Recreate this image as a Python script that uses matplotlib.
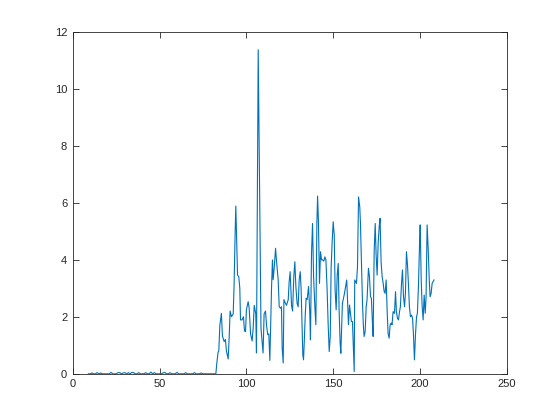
import matplotlib
matplotlib.use("Agg")
import matplotlib.pyplot as plt

# quiet stretch before the outbreak (x = 9 .. 81)
x_low = list(range(9, 82))
y_low = [0.0, 0.0, 0.03, 0.0, 0.0, 0.04, 0.0, 0.03, 0.0, 0.0,
         0.0, 0.0, 0.0, 0.05, 0.0, 0.0, 0.0, 0.04, 0.04, 0.0,
         0.03, 0.04, 0.0, 0.04, 0.0, 0.05, 0.04, 0.0, 0.0, 0.04,
         0.0, 0.0, 0.0, 0.04, 0.0, 0.0, 0.06, 0.0, 0.04, 0.0,
         0.0, 0.0, 0.0, 0.03, 0.05, 0.0, 0.0, 0.04, 0.0, 0.0,
         0.0, 0.05, 0.0, 0.0, 0.0, 0.0, 0.04, 0.0, 0.0, 0.0,
         0.0, 0.04, 0.0, 0.0, 0.0, 0.03, 0.0, 0.0, 0.0, 0.0,
         0.0, 0.0, 0.0]

# active stretch
x_high = [82.4, 83.0, 83.7, 84.1, 84.7, 85.6, 86.2, 87.2, 87.9, 88.5,
          89.5, 90.1, 90.6, 91.4, 92.4, 92.9, 93.5, 93.9, 94.9, 95.6,
          96.2, 96.6, 97.5, 98.3, 98.9, 99.5, 100.0, 101.0, 101.6, 102.4,
          103.3, 103.9, 104.5, 105.4, 105.8, 106.8, 108.4, 109.6, 110.2, 111.0,
          111.6, 112.3, 112.9, 113.5, 114.5, 115.0, 115.4, 116.0, 116.8, 117.3,
          118.3, 118.9, 119.6, 120.2, 120.6, 121.2, 121.6, 122.5, 123.1, 124.1,
          124.6, 125.2, 126.0, 126.6, 127.3, 127.9, 128.5, 129.2, 129.8, 130.4,
          131.0, 131.5, 132.1, 132.5, 132.9, 133.3, 133.9, 134.4, 135.0, 135.8,
          136.5, 136.9, 137.5, 138.1, 138.7, 139.4, 140.0, 140.6, 141.0, 141.5,
          142.1, 142.7, 143.3, 143.8, 144.6, 145.2, 145.8, 146.5, 147.1, 147.7,
          148.3, 148.8, 149.4, 150.0, 150.6, 151.1, 151.7, 152.3, 152.9, 153.4,
          154.0, 154.4, 155.3, 156.3, 157.8, 158.8, 159.4, 160.5, 161.1, 161.7,
          162.1, 162.4, 163.4, 164.0, 164.6, 165.3, 165.7, 166.3, 166.9, 167.4,
          167.8, 168.4, 169.0, 169.5, 170.3, 170.9, 171.5, 172.0, 172.6, 173.0,
          173.6, 174.2, 174.7, 175.3, 175.9, 176.5, 177.0, 177.6, 178.2, 178.8,
          179.3, 179.9, 180.5, 181.1, 181.6, 182.2, 182.8, 183.4, 183.9, 184.5,
          185.3, 185.9, 186.4, 187.0, 187.6, 188.2, 188.7, 189.3, 189.9, 190.5,
          191.1, 191.6, 192.2, 192.8, 193.4, 193.9, 194.5, 195.1, 195.7, 196.2,
          196.8, 197.4, 198.0, 198.5, 199.1, 199.7, 200.1, 200.7, 201.2, 201.8,
          202.4, 203.0, 203.5, 204.1, 204.7, 205.3, 205.8, 206.4, 207.0, 207.5,
          208.1]
y_high = [0.0, 0.4, 0.76, 0.8, 1.7, 2.12, 1.32, 1.13, 1.2, 0.8,
          0.52, 1.3, 2.2, 2.0, 2.1, 3.1, 4.9, 5.88, 3.46, 3.4,
          3.0, 1.89, 1.89, 2.0, 1.5, 1.48, 2.24, 2.53, 2.3, 1.4,
          1.15, 1.6, 2.4, 2.1, 0.73, 11.36, 1.6, 0.73, 2.1, 2.2,
          1.7, 1.37, 1.4, 0.47, 3.06, 3.99, 3.3, 3.7, 4.4, 3.99,
          3.3, 2.35, 2.3, 2.35, 0.9, 0.38, 2.6, 2.47, 2.4, 2.6,
          3.2, 3.58, 2.4, 2.2, 3.4, 3.93, 3.06, 2.47, 2.35, 3.29,
          3.58, 3.0, 1.54, 0.66, 0.49, 1.07, 2.06, 2.65, 2.6, 3.06,
          2.18, 1.19, 4.2, 5.27, 3.4, 2.4, 1.72, 5.27, 6.23, 5.33,
          3.17, 4.28, 3.99, 4.0, 3.95, 4.1, 4.0, 2.94, 1.72, 0.78,
          1.31, 3.7, 4.63, 5.33, 4.86, 2.94, 2.24, 3.46, 3.87, 2.24,
          1.07, 0.72, 2.47, 2.76, 3.29, 1.72, 2.41, 1.83, 1.83, 0.72,
          0.08, 3.29, 3.17, 3.76, 6.2, 5.85, 5.27, 3.87, 2.41, 1.66,
          1.31, 1.48, 2.35, 2.6, 3.7, 3.4, 2.7, 2.65, 1.78, 1.31,
          4.28, 5.27, 4.2, 3.46, 4.57, 5.16, 5.45, 3.9, 3.4, 3.17,
          2.9, 2.82, 3.29, 2.18, 1.42, 1.25, 1.72, 1.78, 1.72, 2.18,
          2.12, 2.88, 2.18, 1.95, 1.89, 2.18, 2.35, 3.11, 3.64, 2.7,
          2.35, 2.82, 4.28, 3.81, 3.06, 2.35, 2.0, 2.06, 1.95, 1.42,
          0.49, 1.37, 2.0, 2.12, 3.06, 4.46, 5.22, 3.3, 2.41, 1.89,
          2.76, 2.12, 2.7, 5.22, 4.4, 3.35, 2.7, 2.82, 3.17, 3.23,
          3.29]

x_vals = x_low + x_high
y_vals = y_low + y_high

x_ticks = [0, 50, 100, 150, 200, 250]
y_ticks = [0, 2, 4, 6, 8, 10, 12]

plt.rcParams['font.family'] = ['Liberation Sans', 'DejaVu Sans']

fig = plt.figure(figsize=(5.6, 4.2), dpi=100)
ax = fig.add_axes([0.13, 0.11, 0.775, 0.815])
ax.plot(x_vals, y_vals, color='#0072BD', linewidth=0.8)

ax.set_xlim(0, 250)
ax.set_ylim(0, 12)
ax.set_xticks(x_ticks)
ax.set_yticks(y_ticks)
ax.tick_params(direction='in', top=True, right=True, length=4, width=0.6,
               labelsize=8, colors='#262626', pad=4)
for s in ax.spines.values():
    s.set_linewidth(0.6)
    s.set_color('#262626')

fig.savefig('out.png', dpi=100)
